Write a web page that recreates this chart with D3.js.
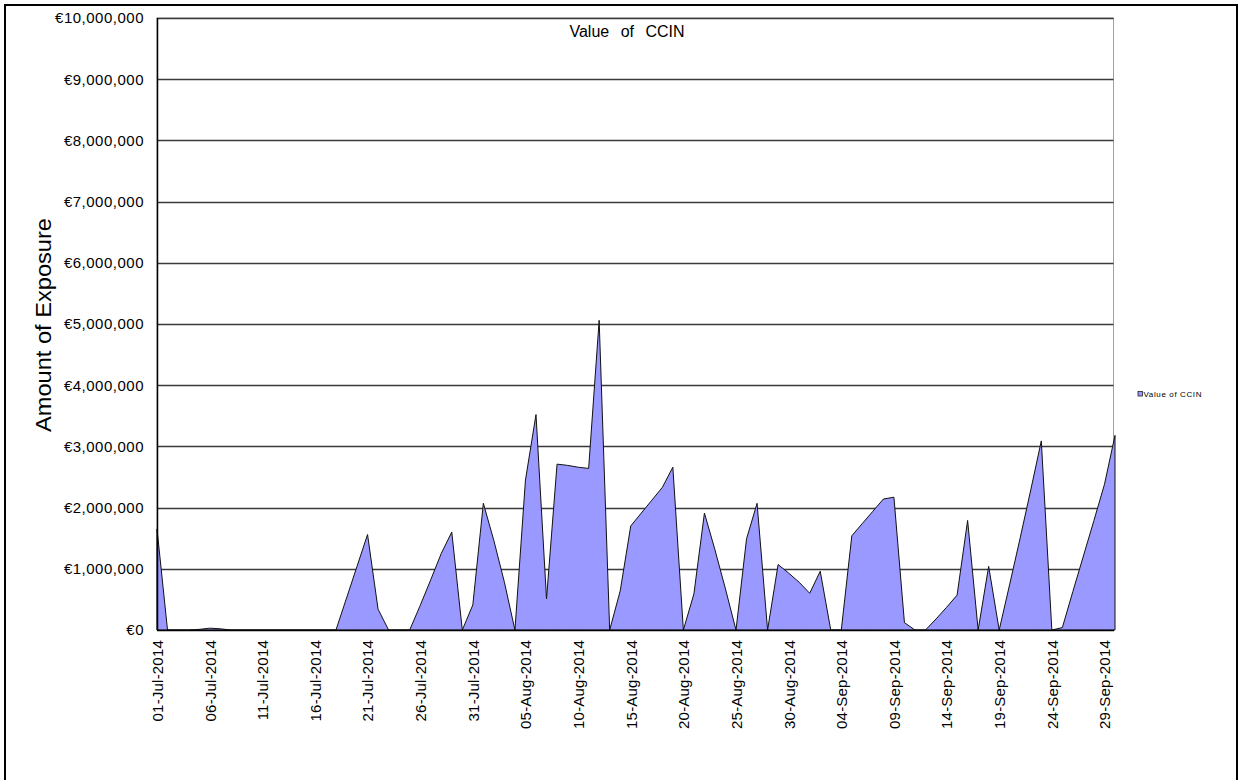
<!DOCTYPE html>
<html>
<head>
<meta charset="utf-8">
<script src="https://cdn.jsdelivr.net/npm/d3@7"></script>
<style>
  html, body { margin: 0; padding: 0; background: #fff; }
  svg { display: block; font-family: "Liberation Sans", Arial, sans-serif; }
</style>
</head>
<body>
<svg id="chart" width="1240" height="780"></svg>
<script>
// ---- data ----
const startDate = "2014-07-01";
const seriesName = "Value of CCIN";
// daily values in euros, 01-Jul-2014 .. 30-Sep-2014
const values = [
  1650000, 0, 0, 0, 10000, 30000, 20000, 0, 0, 0,
  0, 0, 0, 0, 0, 0, 0, 0, 520000, 1040000,
  1560000, 340000, 0, 0, 0, 400000, 820000, 1250000, 1600000, 0,
  410000, 2070000, 1460000, 780000, 0, 2450000, 3520000, 510000, 2710000, 2690000,
  2660000, 2640000, 5060000, 0, 640000, 1700000, 1910000, 2120000, 2330000, 2660000,
  0, 590000, 1910000, 1310000, 670000, 0, 1490000, 2070000, 0, 1070000,
  930000, 780000, 600000, 960000, 0, 0, 1540000, 1740000, 1940000, 2140000,
  2170000, 120000, 0, 0, 180000, 370000, 570000, 1790000, 0, 1040000,
  0, 750000, 1510000, 2290000, 3090000, 0, 40000, 630000, 1210000, 1790000,
  2380000, 3180000
];
const tickLabels = [
  "01-Jul-2014", "06-Jul-2014", "11-Jul-2014", "16-Jul-2014", "21-Jul-2014",
  "26-Jul-2014", "31-Jul-2014", "05-Aug-2014", "10-Aug-2014", "15-Aug-2014",
  "20-Aug-2014", "25-Aug-2014", "30-Aug-2014", "04-Sep-2014", "09-Sep-2014",
  "14-Sep-2014", "19-Sep-2014", "24-Sep-2014", "29-Sep-2014"
];
const yTicks = [0, 1000000, 2000000, 3000000, 4000000, 5000000, 6000000, 7000000, 8000000, 9000000, 10000000];

// ---- build ----
(function () {
const parseISO = d3.timeParse("%Y-%m-%d");
const parseLbl = d3.timeParse("%d-%b-%Y");
const t0 = parseISO(startDate);
const data = values.map((v, i) => ({ date: d3.timeDay.offset(t0, i), value: v }));

const svg = d3.select("#chart");
const pL = 157, pR = 1115, pT = 18, pB = 630, frameR = 1113.5;

const x = d3.scaleTime()
  .domain([data[0].date, data[data.length - 1].date])
  .range([pL, pR]);
const y = d3.scaleLinear().domain([0, 10000000]).range([pB, pT]);

// outer border
svg.append("rect")
  .attr("x", 5).attr("y", 5).attr("width", 1232).attr("height", 800)
  .attr("fill", "none").attr("stroke", "#000").attr("stroke-width", 2);

// plot area border (gray)
svg.append("rect")
  .attr("x", pL).attr("y", pT).attr("width", frameR - pL).attr("height", pB - pT)
  .attr("fill", "#fff").attr("stroke", "#a0a0a0").attr("stroke-width", 1);

// gridlines
svg.append("g").selectAll("line")
  .data(yTicks.filter(d => d > 0))
  .join("line")
  .attr("x1", pL).attr("x2", frameR)
  .attr("y1", d => Math.round(y(d)) + 0.5).attr("y2", d => Math.round(y(d)) + 0.5)
  .attr("stroke", "#3a3a3a").attr("stroke-width", 1.3);

// area
const area = d3.area()
  .x(d => x(d.date))
  .y0(y(0))
  .y1(d => y(d.value));
svg.append("path")
  .datum(data)
  .attr("d", area)
  .attr("fill", "#9999ff")
  .attr("stroke", "#111")
  .attr("stroke-width", 1)
  .attr("stroke-linejoin", "miter");

// axes lines
svg.append("line").attr("x1", pL + 0.5).attr("x2", pL + 0.5)
  .attr("y1", pT).attr("y2", pB).attr("stroke", "#000").attr("stroke-width", 1.5);
svg.append("line").attr("x1", pL).attr("x2", 1114)
  .attr("y1", pB + 0.5).attr("y2", pB + 0.5).attr("stroke", "#000").attr("stroke-width", 1.5);

// y axis labels
const fmtEuro = v => "€" + d3.format(",")(v);
const yAxis = d3.axisLeft(y).tickValues(yTicks).tickFormat(fmtEuro).tickSize(0).tickPadding(13);
const gy = svg.append("g").attr("transform", `translate(${pL},0)`).call(yAxis);
gy.select(".domain").remove();
gy.selectAll("text")
  .style("font-size", "15px").style("letter-spacing", "0.5px")
  .style("font-family", "'Liberation Sans', Arial, sans-serif")
  .attr("fill", "#000");

// x axis labels
const xAxis = d3.axisBottom(x)
  .tickValues(tickLabels.map(s => parseLbl(s)))
  .tickFormat(d3.timeFormat("%d-%b-%Y"))
  .tickSize(0);
const gx = svg.append("g").attr("transform", `translate(0,${pB})`).call(xAxis);
gx.select(".domain").remove();
gx.selectAll("text")
  .style("font-size", "15px").style("letter-spacing", "0.2px")
  .style("font-family", "'Liberation Sans', Arial, sans-serif")
  .attr("fill", "#000")
  .attr("transform", "rotate(-90)")
  .attr("text-anchor", "end")
  .attr("x", -10).attr("y", 0).attr("dy", "0.36em");

// title
svg.append("text")
  .attr("x", 627).attr("y", 37)
  .attr("text-anchor", "middle")
  .style("font-size", "16px")
  .style("word-spacing", "7px")
  .text(seriesName);

// y axis title
svg.append("text")
  .attr("transform", "translate(51,325) rotate(-90)")
  .attr("text-anchor", "middle")
  .style("font-size", "22px")
  .attr("textLength", 214).attr("lengthAdjust", "spacingAndGlyphs")
  .text("Amount of Exposure");

// legend
const lg = svg.append("g").attr("transform", "translate(1138,394)");
lg.append("rect").attr("x", 0).attr("y", -2.5).attr("width", 4.5).attr("height", 4.5)
  .attr("fill", "#9999ff").attr("stroke", "#222").attr("stroke-width", 0.8);
lg.append("text").attr("x", 5.5).attr("y", 0).attr("dy", "0.35em")
  .style("font-size", "8px")
  .attr("textLength", 58).attr("lengthAdjust", "spacing")
  .text(seriesName);
})();
</script>
</body>
</html>
